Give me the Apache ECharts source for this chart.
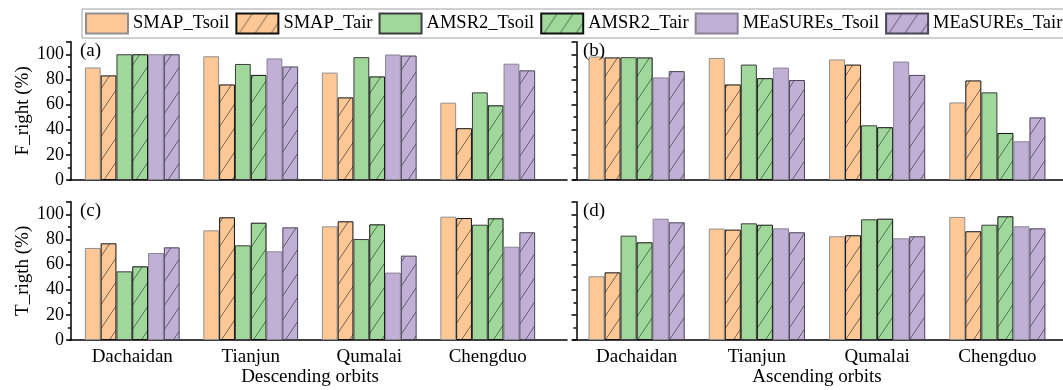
<!DOCTYPE html>
<html>
<head>
<meta charset="utf-8">
<script src="https://cdn.jsdelivr.net/npm/echarts@6/dist/echarts.min.js"></script>
<style>
  html, body { margin: 0; padding: 0; background: #fff; }
  #chart { width: 1063px; height: 390px; }
</style>
</head>
<body>
<div id="chart"></div>
<script>
// Stations along the x axis and the six products shown as bars
const stations = ['Dachaidan', 'Tianjun', 'Qumalai', 'Chengduo'];
const products = ['SMAP_Tsoil', 'SMAP_Tair', 'AMSR2_Tsoil', 'AMSR2_Tair', 'MEaSUREs_Tsoil', 'MEaSUREs_Tair'];

// Rows follow `products`, columns follow `stations` (values in %)
const fRightDescending = [
  [89.5, 98.4, 85.4, 61.5],
  [83.2, 76.0, 65.7, 41.2],
  [100, 92.3, 97.7, 69.7],
  [100, 83.6, 82.4, 59.4],
  [100, 96.7, 99.8, 92.5],
  [100, 90.3, 99.0, 87.2]
];
const fRightAscending = [
  [98.2, 97.1, 95.9, 61.7],
  [97.5, 76.0, 91.8, 79.2],
  [97.7, 91.8, 43.5, 69.7],
  [97.5, 81.0, 42.0, 37.4],
  [81.6, 89.4, 94.2, 30.8],
  [86.6, 79.5, 83.6, 49.8]
];
const tRightDescending = [
  [73.2, 87.2, 90.4, 98.1],
  [76.9, 97.6, 94.4, 97.0],
  [54.6, 75.3, 80.3, 91.7],
  [58.6, 93.3, 92.0, 96.8],
  [69.2, 70.5, 53.6, 74.2],
  [73.7, 89.6, 67.1, 85.7]
];
const tRightAscending = [
  [50.7, 88.6, 82.5, 97.9],
  [53.8, 87.8, 83.3, 86.5],
  [83.0, 92.8, 96.0, 91.7],
  [77.7, 91.7, 96.5, 98.4],
  [96.5, 88.8, 80.9, 90.4],
  [93.6, 85.7, 82.5, 88.8]
];

const yMax = 110;
const yLabelStep = 20;
const yMinorStep = 10;

// ---- styling ----
const FONT = 'Liberation Serif';
const ORANGE = '#FDC896', GREEN = '#A0D89B', PURPLE = '#C0B0D6';

// Diagonal "/" hatch drawn over a fill colour, used as a repeating pattern
function hatch(fill, lineColor) {
  const c = document.createElement('canvas');
  c.width = 16; c.height = 24;
  const g = c.getContext('2d');
  g.fillStyle = fill;
  g.fillRect(0, 0, 16, 24);
  g.strokeStyle = lineColor;
  g.lineWidth = 0.8;
  g.beginPath();
  g.moveTo(-2, 27); g.lineTo(18, -3);
  g.stroke();
  return { image: c, repeat: 'repeat' };
}

const productStyles = [
  { color: ORANGE, borderColor: '#8f8f8f' },
  { color: hatch(ORANGE, '#5a4a3a'), borderColor: '#111' },
  { color: GREEN, borderColor: '#3c3c3c' },
  { color: hatch(GREEN, '#3a5a3a'), borderColor: '#111' },
  { color: PURPLE, borderColor: '#8a8296' },
  { color: hatch(PURPLE, '#4a4458'), borderColor: '#4a4458' }
];

const panels = [
  { data: fRightDescending, tag: '(a)', left: 73, width: 474, top: 41.7, lineLeft: 70, lineWidth: 497, yOffset: 2, yName: 'F_right (%)', xName: '', showX: false, showY: true },
  { data: fRightAscending, tag: '(b)', left: 576.5, width: 481, top: 41.7, lineLeft: 573, lineWidth: 500, yOffset: 0, yName: '', xName: '', showX: false, showY: false },
  { data: tRightDescending, tag: '(c)', left: 73, width: 474, top: 201.7, lineLeft: 70, lineWidth: 497, yOffset: 2, yName: 'T_rigth (%)', xName: 'Descending orbits', showX: true, showY: true },
  { data: tRightAscending, tag: '(d)', left: 576.5, width: 481, top: 201.7, lineLeft: 573, lineWidth: 500, yOffset: 0, yName: '', xName: 'Ascending orbits', showX: true, showY: false }
];
const PANEL_H = 138.3;
const AXIS = { color: '#000', width: 1.5 };

const grid = [], xAxis = [], yAxis = [], series = [], title = [];

panels.forEach(p => {
  const g = grid.length;
  grid.push({ left: p.left, top: p.top, width: p.width, height: PANEL_H });
  grid.push({ left: p.lineLeft, top: p.top, width: p.lineWidth, height: PANEL_H });

  const xi = xAxis.length;
  // category axis: long ticks at station centres, labels, axis title
  xAxis.push({
    type: 'category', gridIndex: g, data: stations, position: 'bottom',
    axisLine: { show: false },
    axisTick: { alignWithLabel: true, length: 5, lineStyle: AXIS },
    axisLabel: { show: p.showX, margin: 8, color: '#000', fontFamily: FONT, fontSize: 19 },
    name: p.xName, nameLocation: 'middle', nameGap: 28,
    nameTextStyle: { color: '#000', fontFamily: FONT, fontSize: 19 }
  });
  // short ticks at the boundaries between stations
  xAxis.push({
    type: 'category', gridIndex: g, data: stations, position: 'bottom',
    axisLine: { show: false },
    axisTick: { length: 3, lineStyle: AXIS },
    axisLabel: { show: false }
  });
  // the full-length bottom axis line
  xAxis.push({
    type: 'value', gridIndex: g + 1, min: 0, max: 1, position: 'bottom',
    axisLine: { show: true, lineStyle: AXIS },
    axisTick: { show: false }, axisLabel: { show: false }, splitLine: { show: false }
  });

  const yi = yAxis.length;
  yAxis.push({
    type: 'value', gridIndex: g, position: 'left', min: 0, max: yMax, interval: yLabelStep, offset: p.yOffset,
    axisLine: { show: true, lineStyle: AXIS },
    axisTick: { show: true, length: 5, lineStyle: AXIS },
    splitLine: { show: false },
    axisLabel: {
      show: p.showY, margin: 7, color: '#000', fontFamily: FONT, fontSize: 18,
      formatter: v => (v % yLabelStep === 0 && v <= 100) ? String(v) : ''
    },
    name: p.yName, nameLocation: 'middle', nameGap: 38,
    nameTextStyle: { color: '#000', fontFamily: FONT, fontSize: 19 }
  });
  // minor ticks every 10 %
  yAxis.push({
    type: 'value', gridIndex: g, position: 'left', min: 0, max: yMax, interval: yMinorStep, offset: p.yOffset,
    axisLine: { show: false },
    axisTick: { show: true, length: 3, lineStyle: AXIS },
    axisLabel: { show: false }, splitLine: { show: false }
  });
  yAxis.push({ type: 'value', gridIndex: g + 1, position: 'left', show: false, min: 0, max: 1 });

  products.forEach((name, k) => {
    series.push({
      type: 'bar', name, xAxisIndex: xi, yAxisIndex: yi,
      data: p.data[k],
      barGap: '0%', barCategoryGap: '20%',
      itemStyle: { color: productStyles[k].color, borderColor: productStyles[k].borderColor, borderWidth: 1 }
    });
  });

  title.push({
    text: p.tag, left: p.lineLeft + 10, top: p.top - 0.5, padding: 0,
    textStyle: { color: '#000', fontFamily: FONT, fontSize: 19, fontWeight: 'normal' }
  });
});

const chart = echarts.init(document.getElementById('chart'), null, { renderer: 'canvas' });
chart.setOption({
  animation: false,
  backgroundColor: '#fff',
  title,
  legend: {
    data: products, left: 82, top: 9, width: 1100,
    padding: [3.5, 30, 3.5, 3], itemGap: 6, itemWidth: 42, itemHeight: 20,
    icon: 'rect', selectedMode: false,
    borderColor: '#a0a0a0', borderWidth: 1, backgroundColor: '#fff',
    textStyle: { color: '#000', fontFamily: FONT, fontSize: 18.5 }
  },
  grid, xAxis, yAxis, series
});
</script>
</body>
</html>
